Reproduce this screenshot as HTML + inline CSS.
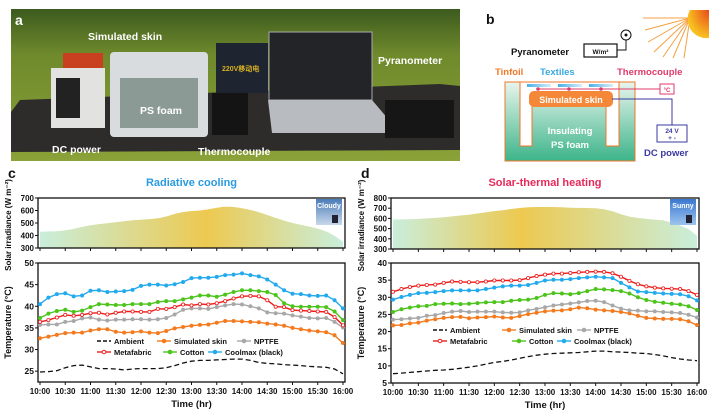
<!DOCTYPE html>
<html><head><meta charset="utf-8">
<style>
html,body{margin:0;padding:0;background:#fff;}
body{width:709px;height:414px;overflow:hidden;position:relative;font-family:"Liberation Sans",Arial,sans-serif;}
svg text{font-family:"Liberation Sans",Arial,sans-serif;font-weight:bold;}
</style></head>
<body>
<svg id="fig" width="709" height="414" viewBox="0 0 709 414" xmlns="http://www.w3.org/2000/svg">
<defs>
<linearGradient id="grass" x1="0" y1="0" x2="0" y2="1"><stop offset="0" stop-color="#3c5a1e"/><stop offset="0.3" stop-color="#6f8a2c"/><stop offset="1" stop-color="#8aa238"/></linearGradient>
<linearGradient id="foamG" x1="0" y1="0" x2="0" y2="1"><stop offset="0" stop-color="#e8f5ee"/><stop offset="1" stop-color="#3cb48a"/></linearGradient>
<linearGradient id="areaC" x1="0" y1="0" x2="1" y2="0"><stop offset="0" stop-color="#c9eedb"/><stop offset="0.55" stop-color="#edc950"/><stop offset="1" stop-color="#c9eedb"/></linearGradient>
<linearGradient id="areaD" x1="0" y1="0" x2="1" y2="0"><stop offset="0" stop-color="#c9eedb"/><stop offset="0.42" stop-color="#edc950"/><stop offset="1" stop-color="#c9eedb"/></linearGradient>
<linearGradient id="tex" x1="0" y1="0" x2="1" y2="0"><stop offset="0" stop-color="#4ab0e8"/><stop offset="1" stop-color="#d8eef8"/></linearGradient>
<radialGradient id="sun" cx="1" cy="0" r="1"><stop offset="0" stop-color="#e84a1a"/><stop offset="1" stop-color="#f8c020"/></radialGradient>
<linearGradient id="cloud" x1="0" y1="0" x2="0" y2="1"><stop offset="0" stop-color="#4c7cb8"/><stop offset="1" stop-color="#c8d8ea"/></linearGradient>
<linearGradient id="sky" x1="0" y1="0" x2="0" y2="1"><stop offset="0" stop-color="#3a78d0"/><stop offset="1" stop-color="#9cc4ee"/></linearGradient>
</defs>

<!-- Panel a photo -->
<g>
<rect x="11" y="9" width="449" height="152" fill="url(#grass)"/>
<polygon points="11,112 20,100 440,84 460,86 460,150 11,152" fill="#2e2c2a"/>
<rect x="63" y="53" width="40" height="17" fill="#c84020"/>
<rect x="51" y="68" width="54" height="60" fill="#e2e2e0"/>
<rect x="56" y="78" width="24" height="40" fill="#222"/>
<rect x="110" y="52" width="98" height="85" rx="4" fill="#d8dcde"/>
<rect x="120" y="78" width="78" height="50" fill="#8c9a96"/>
<rect x="216" y="43" width="52" height="50" fill="#1e2430"/>
<text x="222" y="71" font-size="7" fill="#d8b020">220V移动电</text>
<rect x="212" y="93" width="36" height="42" fill="#141414"/>
<rect x="269" y="32" width="103" height="68" fill="#222428" stroke="#aaa"/>
<polygon points="268,100 372,100 400,133 272,133" fill="#b8bcc0"/>
<rect x="385" y="100" width="69" height="38" fill="#161616"/>
<text x="15" y="25" font-size="14" fill="#fff">a</text>
<text x="88" y="40" font-size="10.5" fill="#fff">Simulated skin</text>
<text x="140" y="114" font-size="10.5" fill="#fff">PS foam</text>
<text x="52" y="153" font-size="10.5" fill="#fff">DC power</text>
<text x="198" y="155" font-size="10.5" fill="#fff">Thermocouple</text>
<text x="378" y="64" font-size="10.5" fill="#fff">Pyranometer</text>
</g>

<!-- Panel b diagram -->
<g>
<text x="486" y="24" font-size="14" fill="#111">b</text>
<g stroke="#f4a040" stroke-width="1">
<line x1="690" y1="18" x2="645" y2="30"/><line x1="690" y1="18" x2="648" y2="42"/><line x1="690" y1="18" x2="654" y2="52"/><line x1="690" y1="18" x2="663" y2="57"/><line x1="690" y1="18" x2="673" y2="58"/><line x1="690" y1="18" x2="684" y2="58"/><line x1="690" y1="18" x2="643" y2="18"/>
</g>
<path d="M709,10 L690,10 A19,19 0 0 0 709,38 Z" fill="url(#sun)"/>
<text x="511" y="55" font-size="9.5" fill="#111">Pyranometer</text>
<rect x="584" y="44" width="33" height="13" fill="#fff" stroke="#111" stroke-width="1.2"/>
<text x="600.5" y="54" font-size="6.5" text-anchor="middle" fill="#111">W/m²</text>
<polyline points="617,50 626,50 626,40" fill="none" stroke="#111" stroke-width="1"/>
<circle cx="626" cy="35" r="5" fill="#fff" stroke="#111"/><circle cx="626" cy="35" r="1.5" fill="#111"/>
<text x="495" y="75" font-size="9.5" fill="#f07828">Tinfoil</text>
<text x="540" y="75" font-size="9.5" fill="#3aa8e0">Textiles</text>
<text x="617" y="75" font-size="9.5" fill="#e03a6a">Thermocouple</text>
<rect x="505" y="82" width="130" height="79" fill="url(#foamG)" stroke="#f07828" stroke-width="1"/>
<path d="M520,82 L520,146 L532,146 L532,106 L606,106 L606,146 L619,146 L619,82 Z" fill="#fff" stroke="#f07828" stroke-width="1"/>
<rect x="527" y="84" width="24" height="3" fill="url(#tex)"/><rect x="558" y="84" width="24" height="3" fill="url(#tex)"/><rect x="589" y="84" width="24" height="3" fill="url(#tex)"/>
<rect x="529" y="91" width="84" height="16" rx="5" fill="#f48838"/>
<text x="571" y="103" font-size="9" text-anchor="middle" fill="#fff">Simulated skin</text>
<text x="570" y="134" font-size="9.5" text-anchor="middle" fill="#fff">Insulating</text>
<text x="570" y="148" font-size="9.5" text-anchor="middle" fill="#fff">PS foam</text>
<polyline points="538,89 660,89" fill="none" stroke="#e03a6a" stroke-width="1"/>
<circle cx="538" cy="89" r="1.8" fill="#e03a6a"/><circle cx="569" cy="89" r="1.8" fill="#e03a6a"/><circle cx="601" cy="89" r="1.8" fill="#e03a6a"/>
<rect x="660" y="84" width="14" height="10" fill="#fff" stroke="#e03a6a"/>
<text x="667" y="92" font-size="6" text-anchor="middle" fill="#e03a6a">°C</text>
<polyline points="612,99 672,99 672,125" fill="none" stroke="#3a3aa0" stroke-width="1"/>
<rect x="657" y="125" width="30" height="17" fill="#fff" stroke="#3a3aa0"/>
<text x="672" y="133" font-size="6.5" text-anchor="middle" fill="#3a3aa0">24 V</text>
<text x="672" y="140" font-size="6.5" text-anchor="middle" fill="#3a3aa0">+  -</text>
<text x="644" y="156" font-size="9.5" fill="#3a3aa0">DC power</text>
</g>

<g id="chartC"></g>
<g id="chartD"></g>
</svg>

<script>
// ---------- Chart c data ----------
const timeTicks = ["10:00","10:30","11:00","11:30","12:00","12:30","13:00","13:30","14:00","14:30","15:00","15:30","16:00"];
const seriesNames = ["Ambient","Simulated skin","NPTFE","Metafabric","Cotton","Coolmax (black)"];
const irrC = [430,432,433,440,450,465,478,488,495,503,510,518,524,528,532,540,555,575,588,596,600,608,620,630,630,622,610,595,575,553,532,512,495,482,468,452,430,395,350];
const ambC = [24.8,24.9,25.1,25.8,26.3,26.4,26,25.6,25.6,25.5,25.3,25.5,25.6,25.6,25.6,25.8,26.3,26.9,27.3,27.5,27.5,27.6,27.7,27.8,27.8,27.5,27,26.8,26.7,26.5,26.4,26.3,26.1,26,25.9,25.5,24.4];
const skinC = [32.6,33,33.4,33.8,33.9,33.9,34.4,34.7,34.7,34.1,33.9,34,34.2,33.9,33.8,34.3,34.9,35.2,35.5,35.7,35.8,36.2,36.6,36.6,36.5,36.4,36.3,36,35.8,35.5,35,34.7,34.4,34.2,34,33.3,31.5];
const nptfeC = [35.7,35.8,35.8,36.4,36.6,37.2,37.4,36.9,36.7,36.9,36.9,37,37,36.9,37,37.3,38.1,39.2,39.5,39.5,39.4,39.8,40.2,40.5,40.4,40,39.5,38.6,38.4,38.3,37.9,37.6,37.3,37.2,37.3,36.4,35.1];
const metaC = [36.4,36.8,37.4,38,37.8,38,38.4,38.5,38.1,38.5,38.8,38.8,38.7,38.7,39.4,39.4,39.8,40.4,40.2,40.5,40.4,40.7,41.2,41.8,42.3,42.4,42.3,41.4,39.9,39.8,39.1,39,38.9,38.8,38.7,37.5,35.6];
const cottonC = [37.3,38.3,38.9,39.2,38.7,39,39.8,40.5,40.4,40.3,40.3,40.5,40.5,40.5,41,41.2,41.2,41.6,42,42.5,42.5,42.2,42.7,43.3,43.7,43.7,43.5,43.3,42.6,40.7,40,39.9,39.9,39.9,39.8,38.8,36.8];
const coolC = [40.5,42,42.8,43,42.3,42.5,43.6,43.7,43.3,43.4,43.5,43.8,44.7,45,45,44.8,45.1,45.6,46.5,46.6,46.6,46.8,47.2,47.3,47.6,47.2,46.9,46.2,45,43.7,42.9,42.8,42.5,42.4,42.5,41.4,39.5];
const irrTicksC = [300,400,500,600,700];
const tempTicksC = [25,30,35,40,45,50];
// ---------- Chart d data ----------
const irrD = [590,590,592,595,600,605,612,620,628,635,648,660,672,680,692,702,710,712,712,712,710,705,703,702,700,690,670,640,618,605,595,588,580,560,530,495,430];
const ambD = [7.7,7.9,8.1,8.3,8.5,8.7,8.8,9,9.3,9.6,10,10.5,11,11.3,11.7,12.2,12.7,13.1,13.4,13.6,13.7,13.8,13.9,14.1,14.3,14.3,14.1,14,13.9,13.7,13.6,13.3,12.9,12.4,12,11.7,11.5];
const skinD = [21.8,21.9,22.4,22.6,23.2,23.6,24,24.2,24.3,23.9,24.1,24.2,24.4,24.1,24,24.5,25.1,25.5,25.9,26.1,26.2,26.5,27,26.8,26.4,26.2,26,25.7,25.3,24.6,24,23.8,23.7,23.7,23.6,23,21.9];
const nptfeD = [23.5,23.6,23.8,24,24.6,24.8,25.4,25.8,26,25.7,25.8,25.8,25.8,25.6,25.5,25.6,26.2,26.6,27.1,27.6,27.9,28.2,28.5,28.9,29,28.6,27.6,26.7,26.2,26.1,25.9,25.9,25.7,25.6,25.4,24.9,24.1];
const metaD = [31.6,32.4,33,33.4,33.6,33.7,34.2,34.6,34.5,34.4,34.4,34.6,34.9,34.9,34.9,35,35.6,36.2,36.6,36.9,36.9,37.1,37.3,37.4,37.5,37.4,37,36,34.8,33.8,33.2,32.8,32.6,32.5,32.4,31.8,30.7];
const cottonD = [25.7,26.5,27,27.4,27.5,28,28.1,28.2,28,28.1,28.3,28.5,28.6,28.6,29,29.2,29.3,29.8,30.7,31.2,31.1,30.9,31.2,31.8,32.4,32.3,32.1,31.8,31.1,30,29.2,28.7,28.4,28.1,27.9,27.4,26.3];
const coolD = [29.3,30.1,30.7,31.2,31.3,31.5,31.8,32,32,32,32,32.4,32.8,33.2,33.4,33.4,33.6,34.2,34.9,35.1,35.1,35.3,35.6,35.8,36,35.8,35.6,34.2,32.9,31.7,31.5,31.3,31.1,31,30.9,30.3,29.1];
const irrTicksD = [300,400,500,600,700,800];
const tempTicksD = [5,10,15,20,25,30,35,40];

const NS = "http://www.w3.org/2000/svg";
const colors = ["#111","#f47a1e","#a8a8a8","#ee1c1c","#4cc41c","#22aaee"];
function mk(parent, tag, attrs){const e=document.createElementNS(NS,tag);for(const k in attrs)e.setAttribute(k,attrs[k]);parent.appendChild(e);return e;}

function drawChart(g, cfg){
  const {x0,x1,tTop,tBot,tMin,tMax,bTop,bBot,bMin,bMax,irr,irrTicks,tempTicks,series,title,titleColor,letter,area,legend,badge}=cfg;
  const xs=(i,n)=>x0+(x1-x0)*i/(n-1);
  const yT=v=>tBot-(v-tMin)/(tMax-tMin)*(tBot-tTop);
  const yB=v=>bBot-(v-bMin)/(bMax-bMin)*(bBot-bTop);
  let t=mk(g,"text",{x:x0-32,y:tTop-20,"font-size":14,fill:"#111"});t.textContent=letter;
  
  
  t=mk(g,"text",{x:(x0+x1)/2,y:tTop-12,"font-size":11,fill:titleColor,"text-anchor":"middle"});t.textContent=title;
  
  
  let d=`M${x0},${tBot}`;irr.forEach((v,i)=>{d+=` L${xs(i,irr.length).toFixed(1)},${yT(v).toFixed(1)}`;});d+=` L${x1},${tBot} Z`;
  const a=mk(g,"path",{d:d,fill:area});
  
  
  const b=mk(g,"rect",{x:x1-27,y:tTop+1,width:26,height:badge.h,fill:badge.fill});
  
  
  t=mk(g,"text",{x:x1-14,y:tTop+10,"font-size":7,fill:"#fff","text-anchor":"middle"});t.textContent=badge.text;
  
  
  mk(g,"rect",{x:x1-11,y:tTop+badge.h-9,width:6,height:8,fill:"#223"});
  [[tTop,tBot],[bTop,bBot]].forEach(([a1,a2],k)=>{const f=mk(g,"rect",{x:x0-2,y:a1,width:x1-x0+4,height:a2-a1,fill:"none",stroke:"#111","stroke-width":1.3});
    
    });
  irrTicks.forEach(v=>{mk(g,"line",{x1:x0-2,x2:x0-5,y1:yT(v),y2:yT(v),stroke:"#111"});
    const e=mk(g,"text",{x:x0-6,y:yT(v)+3,"font-size":8,"text-anchor":"end",fill:"#111"});e.textContent=v;
    
    });
  tempTicks.forEach(v=>{mk(g,"line",{x1:x0-2,x2:x0-5,y1:yB(v),y2:yB(v),stroke:"#111"});
    const e=mk(g,"text",{x:x0-6,y:yB(v)+3,"font-size":8.5,"text-anchor":"end",fill:"#111"});e.textContent=v;
    
    });
  timeTicks.forEach((s,i)=>{const x=xs(i,timeTicks.length);
    mk(g,"line",{x1:x,x2:x,y1:bBot,y2:bBot+3,stroke:"#111"});mk(g,"line",{x1:x,x2:x,y1:tBot,y2:tBot+3,stroke:"#111"});
    const e=mk(g,"text",{x:x,y:bBot+12,"font-size":8,"text-anchor":"middle",fill:"#111"});e.textContent=s;
    
    });
  t=mk(g,"text",{x:(x0+x1)/2,y:bBot+25,"font-size":9.5,"text-anchor":"middle",fill:"#111"});t.textContent="Time (hr)";
  
  
  t=mk(g,"text",{x:0,y:0,"font-size":9,"text-anchor":"middle",fill:"#111",transform:`translate(${x0-29},${(bTop+bBot)/2}) rotate(-90)`});t.textContent="Temperature (°C)";
  
  
  t=mk(g,"text",{x:0,y:0,"font-size":8,"text-anchor":"middle",fill:"#111",transform:`translate(${x0-29},${(tTop+tBot)/2+2}) rotate(-90)`});t.textContent="Solar irradiance (W m⁻²)";
  
  
  series.forEach((arr,si)=>{
    const pts=arr.map((v,i)=>`${xs(i,arr.length).toFixed(1)},${yB(v).toFixed(1)}`).join(" ");
    const l=mk(g,"polyline",{points:pts,fill:"none",stroke:colors[si],"stroke-width":si==0?1.3:1.4,"stroke-dasharray":si==0?"5,3":"none"});
    
    
    if(si>0) arr.forEach((v,i)=>{const c=mk(g,"circle",{cx:xs(i,arr.length),cy:yB(v),r:1.6,fill:si==3?"#fff":colors[si],stroke:colors[si],"stroke-width":0.8});
      
      });
  });
  seriesNames.forEach((n,si)=>{const [lx,ly]=legend[si];
    const lg=mk(g,"g",{});
    
    
    mk(lg,"line",{x1:lx,x2:lx+14,y1:ly,y2:ly,stroke:colors[si],"stroke-width":1.4,"stroke-dasharray":si==0?"4,2":"none"});
    if(si>0) mk(lg,"circle",{cx:lx+7,cy:ly,r:1.8,fill:si==3?"#fff":colors[si],stroke:colors[si]});
    const e=mk(lg,"text",{x:lx+17,y:ly+3,"font-size":7.5,fill:"#111"});e.textContent=n;});
}

drawChart(document.getElementById("chartC"),{x0:40,x1:343,tTop:198,tBot:248,tMin:300,tMax:700,bTop:263,bBot:382,bMin:22.5,bMax:50,
  irr:irrC,irrTicks:irrTicksC,tempTicks:tempTicksC,series:[ambC,skinC,nptfeC,metaC,cottonC,coolC],
  title:"Radiative cooling",titleColor:"#2a9be0",letter:"c",area:"url(#areaC)",
  legend:[[97,341],[157,341],[237,341],[97,352],[163,352],[208,352]],badge:{h:26,fill:"url(#cloud)",text:"Cloudy"}});
drawChart(document.getElementById("chartD"),{x0:393,x1:697,tTop:198,tBot:249,tMin:300,tMax:800,bTop:263,bBot:383,bMin:5,bMax:40,
  irr:irrD,irrTicks:irrTicksD,tempTicks:tempTicksD,series:[ambD,skinD,nptfeD,metaD,cottonD,coolD],
  title:"Solar-thermal heating",titleColor:"#e8285a",letter:"d",area:"url(#areaD)",
  legend:[[433,330],[502,330],[577,330],[433,341],[512,341],[557,341]],badge:{h:26,fill:"url(#sky)",text:"Sunny"}});
</script>
</body></html>
